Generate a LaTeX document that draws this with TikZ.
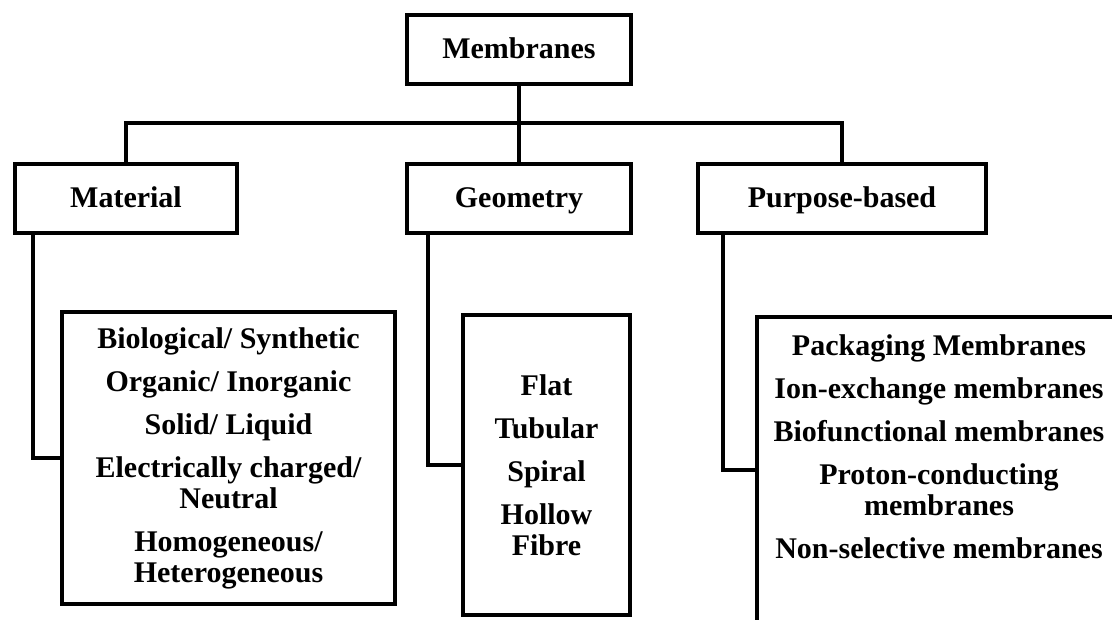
\documentclass[tikz,border=0pt]{standalone}
\usepackage{fontspec}
\setmainfont{Liberation Serif}

\begin{document}
\begin{tikzpicture}[x=1pt,y=-1pt]
			\tikzstyle{box}=[rectangle,draw=black,line width=4pt,align=center,inner sep=0pt,font=\fontsize{30}{31}\selectfont\bfseries]
			\tikzstyle{head}=[box,text height=20pt,text depth=2pt]
			\tikzstyle{list}=[align=center,inner sep=0pt,font=\fontsize{30}{31}\selectfont\bfseries]
			\tikzstyle{link}=[draw=black,line width=3.6pt]
				\useasboundingbox (0,0) rectangle (1112,620);
				\clip (0,0) rectangle (1112,620);
				% top level
				\node[head,minimum width=224pt,minimum height=69pt](mem) at (519,49.5){Membranes};
				\node[head,minimum width=222pt,minimum height=69pt](mat) at (126,198.5){Material};
				\node[head,minimum width=224pt,minimum height=69pt](geo) at (519,198.5){Geometry};
				\node[head,minimum width=288pt,minimum height=69pt](pur) at (842,198.5){Purpose-based};
				% lists
				\node[box,minimum width=333pt,minimum height=292pt](matlist) at (228.5,458){Biological/ Synthetic\\[12pt]Organic/ Inorganic\\[12pt]Solid/ Liquid\\[12pt]Electrically charged/\\Neutral\\[12pt]Homogeneous/\\Heterogeneous};
				\node[box,minimum width=167pt,minimum height=300pt](geolist) at (546.5,465){Flat\\[12pt]Tubular\\[12pt]Spiral\\[12pt]Hollow\\Fibre};
				\node[box,minimum width=366pt,minimum height=306pt](purlist) at (940,470){};
				\node[list](purtxt) at (939,447){Packaging Membranes\\[12pt]Ion-exchange membranes\\[12pt]Biofunctional membranes\\[12pt]Proton-conducting\\membranes\\[12pt]Non-selective membranes};
				\coordinate (hub) at (519,123);
				\draw[link] (mem.south) -- (geo.north);
				\draw[link] (mat.north) |- (hub) -| (pur.north);
				\draw[link] ([xshift=20pt]mat.south west) |- (matlist.west);
				\draw[link] ([xshift=23pt]geo.south west) |- (geolist.west);
				\draw[link] ([xshift=27pt]pur.south west) |- (purlist.west);
			\end{tikzpicture}
\end{document}
